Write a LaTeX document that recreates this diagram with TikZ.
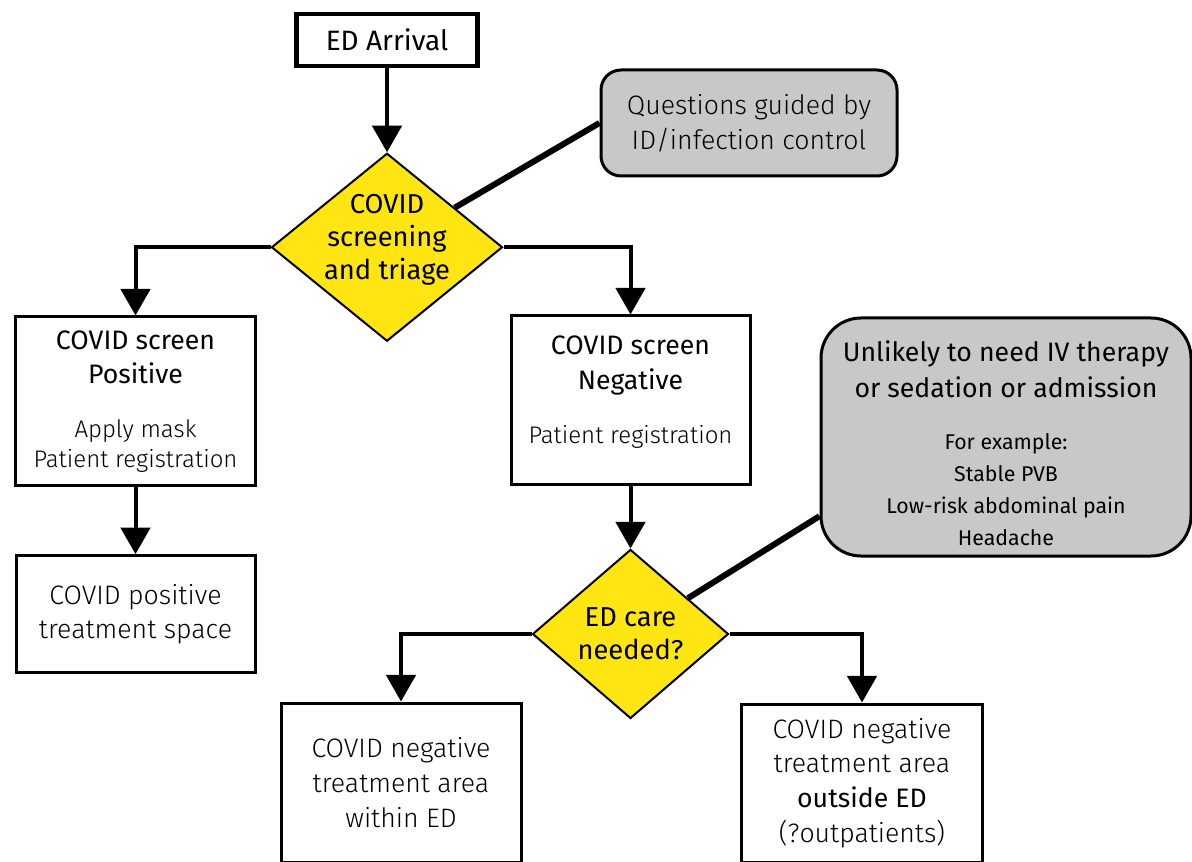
\documentclass[tikz,border=0pt]{standalone}
\usepackage{fontspec}
\setmainfont{Fira Sans}
\newfontfamily\lightfont{Fira Sans Light}
\usetikzlibrary{shapes.geometric,positioning,arrows.meta}
\definecolor{flowyellow}{RGB}{255,230,18}
\definecolor{notegray}{RGB}{200,200,200}

\begin{document}
\begin{tikzpicture}[x=0.75pt, y=-0.75pt,
  box/.style={draw, line width=2.25pt, align=center, inner sep=0pt, minimum width=180pt, font=\lightfont\fontsize{20}{26}\selectfont},
  decision/.style={diamond, draw, line width=1.5pt, fill=flowyellow, inner sep=0pt},
  decisiontext/.style={align=center, inner sep=0pt, font=\fontsize{20.5}{25}\selectfont},
  note/.style={draw, line width=2.25pt, fill=notegray, align=center, inner sep=0pt},
  flow/.style={line width=3pt, -{Triangle[width=22pt,length=20pt]}},
  link/.style={line width=4.5pt}]
 \useasboundingbox (0,0) rectangle (1192,862);

 \node [box, line width=3.4pt, minimum width=135.75pt, minimum height=39pt, font=\fontsize{21}{26}\selectfont] (arrival) at (387,40) {ED Arrival};
 \node [decision, minimum width=173.25pt, minimum height=141pt, below=63pt of arrival] (screen) {};
 \node [decisiontext] (screentext) at ([yshift=5.5pt]screen.center) {COVID\\screening\\and triage};

 \node [box, minimum height=126.75pt] (pos) at (135.5,401.5) {{\rmfamily COVID screen}\\{\rmfamily Positive}\\[14pt]{\lightfont\fontsize{18}{23}\selectfont Apply mask}\\[-3pt]{\lightfont\fontsize{18}{23}\selectfont Patient registration}};
 \node [box, minimum width=179.25pt, minimum height=87.75pt, below=50pt of pos] (tspace) {COVID positive\\treatment space};

 \node [box, minimum width=179.25pt, minimum height=126.75pt, text depth=16pt] (neg) at (630.5,400.5) {{\rmfamily COVID screen}\\{\rmfamily Negative}\\[15pt]{\lightfont\fontsize{18}{23}\selectfont Patient registration}};
 \node [decision, minimum width=147pt, minimum height=126.75pt, below=46.5pt of neg] (care) {};
 \node [decisiontext] (caretext) at (care.center) {ED care\\needed?};

 \node [box, minimum height=119.25pt] (within) at (401,782.5) {COVID negative\\treatment area\\within ED};
 \node [box, minimum width=180.75pt, minimum height=118.5pt] (outside) at (862,783) {COVID negative\\treatment area\\{\rmfamily outside ED}\\(?outpatients)};

 \node [note, rounded corners=15pt, minimum width=222pt, minimum height=79.5pt, font=\lightfont\fontsize{20}{26}\selectfont] (quest) at (749,123) {Questions guided by\\ID/infection control};
 \node [note, rounded corners=30pt, minimum width=277.5pt, minimum height=178.5pt, font=\fontsize{16}{24}\selectfont] (unlikely) at (1006,437) {{\fontsize{20}{25}\selectfont\rule{0pt}{25pt}Unlikely to need IV therapy}\\[2.5pt]{\fontsize{20}{25}\selectfont or sedation or admission}\\[15pt]For example:\\Stable PVB\\Low-risk abdominal pain\\Headache};

 \draw [flow] (arrival) -- (screen);
 \draw [flow] (screen.west) -| (pos.north);
 \draw [flow] (screen.east) -| (neg.north);
 \draw [flow] (pos) -- (tspace);
 \draw [flow] (neg) -- (care);
 \draw [flow] (care.west) -| (within.north);
 \draw [flow] (care.east) -| (outside.north);
 \draw [link] (quest.west) -- (screen);
 \draw [link] (unlikely.203) -- (care);
\end{tikzpicture}
\end{document}
